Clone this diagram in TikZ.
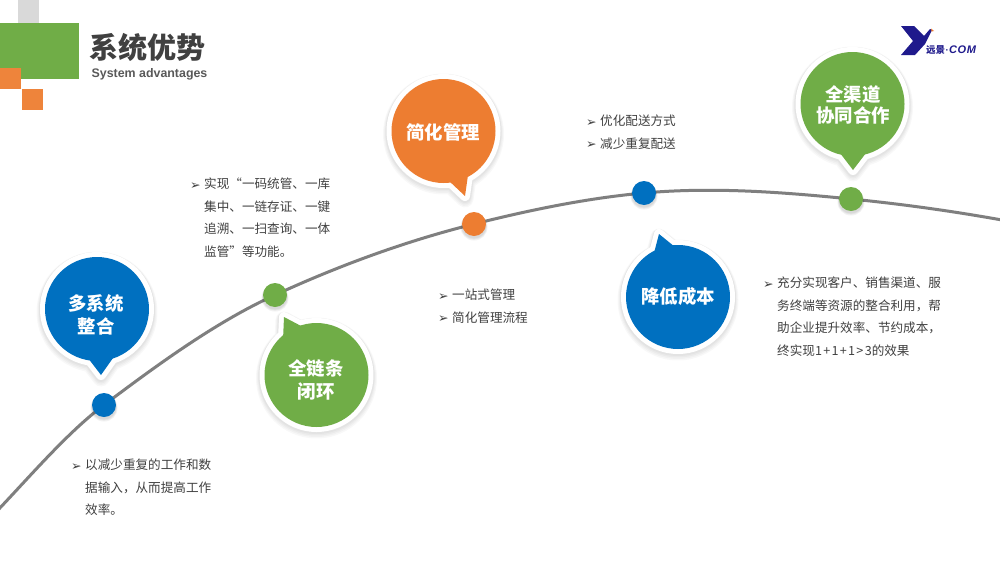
\documentclass[tikz,border=0pt]{standalone}
\usepackage{fontspec}
\setmainfont{Noto Sans CJK SC}
\newfontfamily\latinbold{Liberation Sans}
\newfontfamily\arrowfont{DejaVu Sans}
\newfontfamily\cjklogo[AutoFakeSlant=0.25]{Noto Sans CJK SC}
\definecolor{cgreen}{HTML}{70AD47}
\definecolor{corange}{HTML}{ED7D31}
\definecolor{cblue}{HTML}{0070C0}
\definecolor{cnavy}{HTML}{1F1A8C}
\definecolor{ctext}{HTML}{404040}
\definecolor{csub}{HTML}{595959}
\definecolor{cline}{HTML}{7F7F7F}
\tikzset{
  x=1pt,y=-1pt,
  bubbletext/.style={inner sep=0pt,align=center,text=white,font=\fontsize{18.4}{23}\selectfont\bfseries},
  dotnode/.style={circle,inner sep=0pt,minimum size=24pt,fill=#1},
  bodytext/.style={inner sep=0pt,anchor=north west,align=left,text=ctext,font=\fontsize{12.6}{22.4}\selectfont},
}
\newcommand{\bul}{\llap{\raisebox{-0.5pt}{\arrowfont\fontsize{12.5}{12}\selectfont ➢}\kern3.5pt}}
% name, cx, cy, base1, tip, base2, colour
\newcommand{\bubble}[7]{%
  \coordinate (#1c) at (#2,#3);
  \coordinate (#1a) at (#4);
  \coordinate (#1t) at (#5);
  \coordinate (#1b) at (#6);
  \foreach \w/\s in {17/3,15/2.5,13/2,12/1}{
    \draw[black,opacity=.028,line width=\w pt,line join=round]
      ([yshift=-\s pt]#1c) circle (52pt)
      ([yshift=-\s pt]#1a)--([yshift=-\s pt]#1t)--([yshift=-\s pt]#1b)--cycle;
  }
  \draw[white,line width=10pt,line join=round,fill=white]
      (#1c) circle (52pt) (#1a)--(#1t)--(#1b)--cycle;
  \fill[#7] (#1a)--(#1t)--(#1b)--cycle;
  \node[circle,inner sep=0pt,minimum size=104pt,fill=#7] (#1) at (#1c) {};
}
\newcommand{\curvedot}[2]{%
  \foreach \r/\s in {13.5/3,13/2.5,12.5/2}{
    \fill[black,opacity=.05] ([yshift=-\s pt]#1) circle (\r pt);
  }
  \node[dotnode=#2] (n#1) at (#1) {};
}
\begin{document}
\begin{tikzpicture}
\useasboundingbox (0,0) rectangle (1000,562);
\fill[white] (0,0) rectangle (1000,562);
% header blocks
\fill[gray!30] (18,0) rectangle (39,23);
\fill[cgreen] (0,23) rectangle (79,79);
\fill[corange!95!white] (0,68) rectangle (21,89);
\fill[corange!95!white] (22,89) rectangle (43,110);
\node[inner sep=0pt,text=ctext,font=\fontsize{29}{29}\selectfont\bfseries] (title) at (147.5,47) {系统优势};
\node[inner sep=0pt,text=csub,font=\latinbold\fontsize{12.4}{13}\selectfont\bfseries] (subtitle) at (149.5,74) {System advantages};
% logo
\fill[cnavy] (901,26)--(914,26)--(924,36)--(930,29)--(932,30)--(925,44)--(915,55)--(901,55)--(913,41)--cycle;
\fill[corange] (931,28.5)--(934,31)--(931.5,31.5)--cycle;
\node[inner sep=0pt,anchor=west,text=cnavy,font=\fontsize{9.5}{9}\selectfont] (logo) at (926,50.5) {{\cjklogo\bfseries\itshape 远景}\kern0.3pt{\latinbold\bfseries ·}\kern0.5pt{\latinbold\fontsize{11}{10}\selectfont\bfseries\itshape C\kern0.6pt O\kern0.6pt M}};
% curve
\coordinate (start) at (-2,510);
\coordinate (finish) at (1002,220);
\coordinate (d1) at (104,405);
\coordinate (d2) at (275,295);
\coordinate (d3) at (474,224);
\coordinate (d4) at (644,193);
\coordinate (d5) at (851,199);
\draw[cline,line width=3pt] (start)
  .. controls (33,473) and (68.7,431.5) .. (d1)
  .. controls (161,362) and (218,321) .. (d2)
  .. controls (341.3,264.5) and (407.7,240.6) .. (d3)
  .. controls (530.7,209.8) and (587.3,198.1) .. (d4)
  .. controls (713,186.8) and (782,192.1) .. (d5)
  .. controls (901.3,204) and (951.7,211) .. (finish);
% dots
\curvedot{d1}{cblue}
\curvedot{d2}{cgreen}
\curvedot{d3}{corange}
\curvedot{d4}{cblue}
\curvedot{d5}{cgreen}
% bubbles
\bubble{b1}{97}{309}{88,358}{101,375}{113,358}{cblue}
\bubble{b2}{316.5}{375}{283,340}{284,317}{303,327}{cgreen}
\bubble{b3}{443.5}{131}{448,180}{465,196}{468,175}{corange}
\bubble{b4}{678}{297}{654,253}{659,234}{675,247}{cblue}
\bubble{b5}{852.5}{104}{840,153}{853,170}{866,153}{cgreen}
\node[bubbletext] (b1l) at (96,314.5) {多系统\\整合};
\node[bubbletext] (b2l) at (316,379.5) {全链条\\闭环};
\node[bubbletext] (b3l) at (443,132) {简化管理};
\node[bubbletext] (b4l) at (678,296) {降低成本};
\node[bubbletext] (b5l) at (853,105) {全渠道\\[-2pt]协同合作};
% text
\node[bodytext] (t1) at (85,459) {\bul 以减少重复的工作和数\\据输入，从而提高工作\\效率。};
\node[bodytext] (t2) at (204,178) {\bul 实现“一码统管、一库\\集中、一链存证、一键\\追溯、一扫查询、一体\\监管”等功能。};
\node[bodytext] (t3) at (452,289) {\bul 一站式管理\\\bul 简化管理流程};
\node[bodytext] (t4) at (600,115) {\bul 优化配送方式\\\bul 减少重复配送};
\node[bodytext] (t5) at (777,277) {\bul 充分实现客户、销售渠道、服\\务终端等资源的整合利用，帮\\助企业提升效率、节约成本，\\终实现1\kern1.3pt+\kern1.3pt1\kern1.3pt+\kern1.3pt1\kern1.3pt>\kern1.3pt3的效果};
\end{tikzpicture}
\end{document}
